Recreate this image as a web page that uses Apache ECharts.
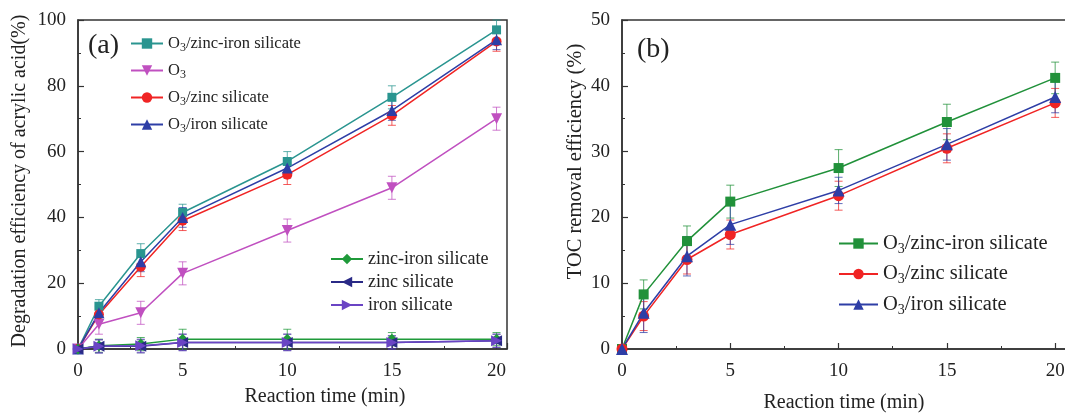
<!DOCTYPE html>
<html><head><meta charset="utf-8">
<script src="https://cdn.jsdelivr.net/npm/echarts@6/dist/echarts.min.js"></script>
<style>html,body{margin:0;padding:0;background:#fff}#c{width:1065px;height:413px}</style>
</head><body><div id="c"></div>
<script>
// ---- data ----
const times = [0, 1, 3, 5, 10, 15, 20];
const xTicks = [0, 5, 10, 15, 20];
// panel (a): degradation efficiency of acrylic acid (%)
const aNames = ['O3/zinc-iron silicate', 'O3', 'O3/zinc silicate', 'O3/iron silicate', 'zinc-iron silicate', 'zinc silicate', 'iron silicate'];
const aZnFeO3 = [0, 13, 29, 41.5, 57, 76.5, 97];
const aO3 = [0, 7.5, 11, 23, 36, 49, 70];
const aZnO3 = [0, 10.5, 25, 39, 53, 71, 93.5];
const aFeO3 = [0, 11, 26.5, 40, 55, 72.5, 94];
const aZnFe = [0, 1, 1.5, 3, 3, 3, 3];
const aZn = [0, 0.8, 0.8, 2, 2, 2, 2.5];
const aFe = [0, 0.8, 1, 2, 2, 2, 2.5];
const aZnFeO3Err = [0, 2, 3, 2.5, 3, 3.5, 3];
const aO3Err = [0, 3, 3.5, 3.5, 3.5, 3.5, 3.5];
const aZnO3Err = [0, 2, 3, 3, 3, 3, 3];
const aFeO3Err = [0, 2, 3, 3, 3, 3, 3];
const aZnFeErr = [0, 2, 2, 3, 3, 2, 2];
const aZnErr = [0, 2, 2, 2.5, 2.5, 2, 2];
const aFeErr = [0, 2, 2, 2.5, 2.5, 2, 2];
// panel (b): TOC removal efficiency (%)
const bNames = ['O3/zinc-iron silicate ', 'O3/zinc silicate ', 'O3/iron silicate '];
const bZnFeO3 = [0, 8.3, 16.4, 22.4, 27.5, 34.5, 41.2];
const bZnO3 = [0, 5, 13.6, 17.4, 23.3, 30.5, 37.4];
const bFeO3 = [0, 5.5, 14.1, 18.9, 24.1, 31.1, 38.3];
const bZnFeO3Err = [0, 2.2, 2.3, 2.5, 2.8, 2.7, 2.4];
const bZnO3Err = [0, 2.2, 2.2, 2.2, 2.2, 2.2, 2.2];
const bFeO3Err = [0, 3, 3, 3, 2, 2.4, 2.4];

const FONT = '"Liberation Serif", "Times New Roman", serif';
const pairs = (ys) => times.map((t, i) => [t, ys[i]]);
const triples = (ys, es) => times.map((t, i) => [t, ys[i], es[i]]);

function lineSeries(name, ys, color, symbol, size, gi) {
  return { type: 'line', name, data: pairs(ys), xAxisIndex: gi, yAxisIndex: gi,
    symbol, symbolSize: size, z: 3,
    lineStyle: { color, width: 1.5 }, itemStyle: { color }, emphasis: { disabled: true } };
}
function errSeries(ys, es, color, gi) {
  return { type: 'custom', data: triples(ys, es), xAxisIndex: gi, yAxisIndex: gi, z: 2, silent: true,
    renderItem: function (params, api) {
      const x = api.value(0), y = api.value(1), e = api.value(2);
      if (!e) return null;
      const t = api.coord([x, y + e]), b = api.coord([x, y - e]);
      const st = { stroke: color, lineWidth: 1, opacity: 0.75 };
      return { type: 'group', children: [
        { type: 'line', shape: { x1: t[0], y1: t[1], x2: b[0], y2: b[1] }, style: st },
        { type: 'line', shape: { x1: t[0] - 4, y1: t[1], x2: t[0] + 4, y2: t[1] }, style: st },
        { type: 'line', shape: { x1: b[0] - 4, y1: b[1], x2: b[0] + 4, y2: b[1] }, style: st }
      ]};
    } };
}

const C = { teal: '#2a9590', mag: '#c050c0', red: '#f02424', blue: '#2e3ea6', green: '#1f9a3a', navy: '#2a2a86', purple: '#6a44c4', bgreen: '#21913a' };

const axisBase = {
  axisLine: { show: true, lineStyle: { color: '#333', width: 1.5 } },
  axisTick: { inside: true, length: 6, lineStyle: { color: '#333', width: 1.2 } },
  minorTick: { show: true, splitNumber: 2, length: 3, lineStyle: { color: '#333', width: 1 } },
  splitLine: { show: false },
  axisLabel: { color: '#222', fontFamily: FONT, fontSize: 19 },
  nameTextStyle: { color: '#222', fontFamily: FONT, fontSize: 20 }
};
function xAx(gi, gap, pad) {
  return Object.assign({}, axisBase, { type: 'value', gridIndex: gi, min: 0, max: 20.5, interval: 5,
    axisLabel: Object.assign({}, axisBase.axisLabel, { margin: 13, formatter: v => (xTicks.includes(v) ? String(v) : '') }),
    name: 'Reaction time (min)', nameLocation: 'middle', nameGap: gap,
    nameTextStyle: Object.assign({}, axisBase.nameTextStyle, { padding: pad }) });
}
function yAx(gi, max, interval, name, gap, pad, fs) {
  return Object.assign({}, axisBase, { type: 'value', gridIndex: gi, min: 0, max, interval,
    axisLabel: Object.assign({}, axisBase.axisLabel, { margin: 12 }),
    name, nameLocation: 'middle', nameGap: gap,
    nameTextStyle: Object.assign({}, axisBase.nameTextStyle, { padding: pad, fontSize: fs }) });
}
const subFmt = (n) => n.trim().replace(/^O3/, 'O{sub|3}');
function legend(data, left, top, gap, fs, w) {
  return { data, left, top, padding: 0, orient: 'vertical', itemGap: gap, itemWidth: w, itemHeight: 13,
    formatter: subFmt, selectedMode: false,
    textStyle: { fontFamily: FONT, fontSize: fs, color: '#222',
      rich: { sub: { fontFamily: FONT, fontSize: Math.round(fs * 0.7), verticalAlign: 'bottom', padding: [Math.round(fs * 0.55), 0, 0, 0] } } } };
}

const option = {
  animation: false,
  backgroundColor: '#fff',
  grid: [
    { left: 78, top: 20, width: 429, height: 329, containLabel: false, outerBoundsMode: 'none', show: true, borderColor: '#333', borderWidth: 1.5 },
    { left: 622, top: 20, width: 444, height: 329, containLabel: false, outerBoundsMode: 'none', show: true, borderColor: '#333', borderWidth: 1.5 }
  ],
  xAxis: [xAx(0, 38, [0, 0, 0, 65]), xAx(1, 44, [0, 0, 0, 0])],
  yAxis: [yAx(0, 100, 20, 'Degradation efficiency of acrylic acid(%)', 48, [0, 0, 0, 7], 20),
          yAx(1, 50, 10, 'TOC removal efficiency (%)', 36, [0, 0, 0, 46], 20.5)],
  legend: [
    legend(aNames.slice(0, 4), 130, 35, 8, 16.5, 32),
    legend(aNames.slice(4), 330, 250, 5, 18, 32),
    legend(bNames, 838, 233, 7.5, 20.5, 39)
  ],
  graphic: [
    { type: 'text', left: 88, top: 32, style: { text: '(a)', fontFamily: FONT, fontSize: 28, fill: '#222' } },
    { type: 'text', left: 637, top: 36, style: { text: '(b)', fontFamily: FONT, fontSize: 28, fill: '#222' } }
  ],
  series: [
    errSeries(aZnFeO3, aZnFeO3Err, C.teal, 0),
    errSeries(aO3, aO3Err, C.mag, 0),
    errSeries(aZnO3, aZnO3Err, C.red, 0),
    errSeries(aFeO3, aFeO3Err, C.blue, 0),
    errSeries(aZnFe, aZnFeErr, C.green, 0),
    errSeries(aZn, aZnErr, C.navy, 0),
    errSeries(aFe, aFeErr, C.purple, 0),
    lineSeries(aNames[0], aZnFeO3, C.teal, 'rect', 9, 0),
    lineSeries(aNames[1], aO3, C.mag, 'path://M0,0 L10,0 L5,9 Z', 11, 0),
    lineSeries(aNames[2], aZnO3, C.red, 'circle', 10, 0),
    lineSeries(aNames[3], aFeO3, C.blue, 'triangle', 11, 0),
    lineSeries(aNames[4], aZnFe, C.green, 'diamond', 11, 0),
    lineSeries(aNames[5], aZn, C.navy, 'path://M0,5 L9,0 L9,10 Z', 11, 0),
    lineSeries(aNames[6], aFe, C.purple, 'path://M0,0 L9,5 L0,10 Z', 11, 0),
    errSeries(bZnFeO3, bZnFeO3Err, C.bgreen, 1),
    errSeries(bZnO3, bZnO3Err, C.red, 1),
    errSeries(bFeO3, bFeO3Err, C.blue, 1),
    lineSeries(bNames[0], bZnFeO3, C.bgreen, 'rect', 10, 1),
    lineSeries(bNames[1], bZnO3, C.red, 'circle', 11, 1),
    lineSeries(bNames[2], bFeO3, C.blue, 'triangle', 12, 1)
  ]
};
const chart = echarts.init(document.getElementById('c'), null, { renderer: 'canvas' });
chart.setOption(option);
</script></body></html>
